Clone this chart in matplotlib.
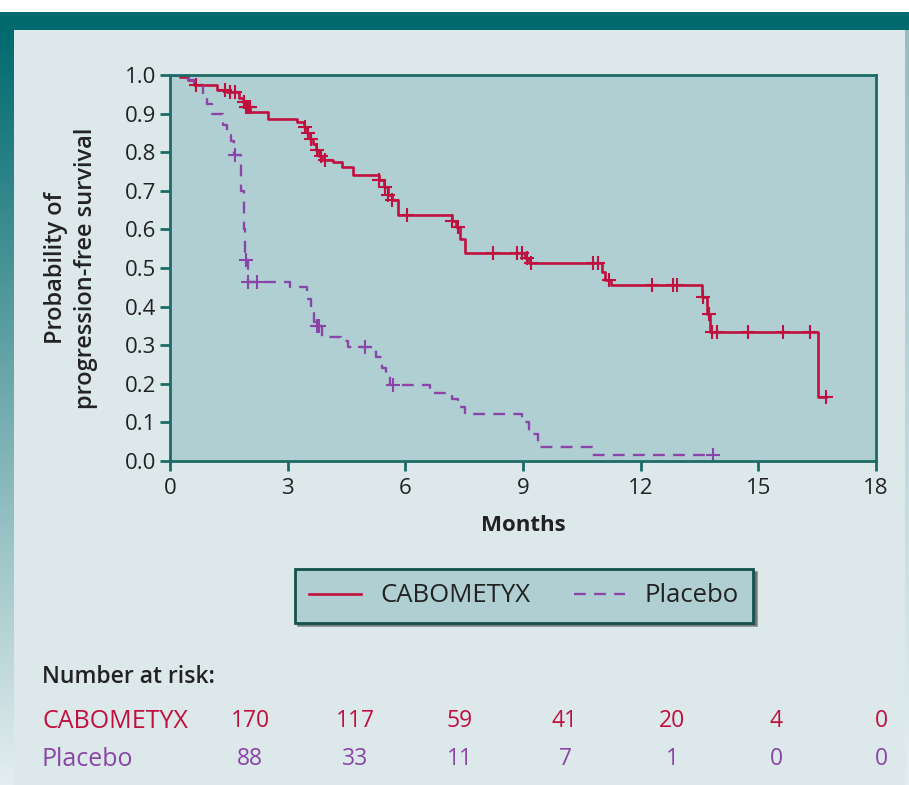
import numpy as np
import matplotlib
matplotlib.use("Agg")
import matplotlib.pyplot as plt
from matplotlib.patches import Rectangle

plt.rcParams['font.family'] = ['Open Sans', 'DejaVu Sans']

# Kaplan-Meier curves (step times in months, survival after the step)
cabo_t = [0, 0.25, 0.45, 0.62, 1.2, 1.45, 1.75, 1.85, 1.92, 2.05, 2.5, 3.24, 3.42, 3.5,
          3.58, 3.65, 3.72, 3.8, 3.88, 4.16, 4.39, 4.67, 5.32, 5.45, 5.55, 5.65, 5.81,
          7.18, 7.3, 7.4, 7.52, 9.05, 9.15, 11.02, 11.1, 11.25, 13.56, 13.7, 13.78, 16.52]
cabo_s = [1.0, 0.994, 0.987, 0.975, 0.962, 0.955, 0.94, 0.93, 0.918, 0.905, 0.886, 0.877,
          0.865, 0.85, 0.835, 0.82, 0.805, 0.79, 0.78, 0.775, 0.762, 0.741, 0.728, 0.71,
          0.69, 0.676, 0.637, 0.622, 0.605, 0.575, 0.54, 0.527, 0.513, 0.49, 0.47, 0.455,
          0.425, 0.38, 0.333, 0.166]
cabo_end = 16.73
cabo_cens = [0.66, 1.4, 1.52, 1.66, 1.88, 1.95, 2.0, 2.04, 3.44, 3.52, 3.6, 3.75, 3.85,
             3.95, 5.33, 5.47, 5.57, 5.67, 6.04, 7.2, 7.35, 8.24, 8.85, 8.97, 9.1, 9.2,
             10.79, 10.91, 11.2, 12.29, 12.82, 12.93, 13.6, 13.75, 13.82, 13.95, 14.74,
             15.63, 16.32, 16.73]

plac_t = [0, 0.25, 0.45, 0.62, 0.85, 0.95, 1.07, 1.35, 1.45, 1.55, 1.62, 1.82, 1.88,
          1.92, 1.98, 3.06, 3.5, 3.6, 3.68, 3.75, 3.88, 4.35, 4.55, 5.25, 5.4, 5.5, 5.6,
          6.63, 7.2, 7.35, 7.52, 8.97, 9.15, 9.38, 10.76]
plac_s = [1.0, 0.994, 0.987, 0.975, 0.95, 0.925, 0.90, 0.87, 0.845, 0.83, 0.793, 0.70,
          0.60, 0.52, 0.465, 0.451, 0.42, 0.39, 0.36, 0.35, 0.321, 0.31, 0.295, 0.27,
          0.24, 0.22, 0.197, 0.176, 0.16, 0.14, 0.123, 0.10, 0.07, 0.036, 0.016]
plac_end = 13.85
plac_cens = [1.66, 1.93, 1.99, 2.22, 3.75, 3.8, 4.98, 5.69, 13.85]

x_ticks = [0, 3, 6, 9, 12, 15, 18]
y_ticks = [0.0, 0.1, 0.2, 0.3, 0.4, 0.5, 0.6, 0.7, 0.8, 0.9, 1.0]

risk_groups = ['CABOMETYX', 'Placebo']
risk_cabo = [170, 117, 59, 41, 20, 4, 0]
risk_plac = [88, 33, 11, 7, 1, 0, 0]

red = '#c0103f'
purple = '#8a45a8'
teal = '#006a6e'
spine = '#1d6a66'
panel = '#dce8ea'
face = '#b0cfd3'


def surv_at(t_steps, s_steps, t):
    i = np.searchsorted(t_steps, t, side='right') - 1
    return s_steps[i]


W, H = 909, 785
fig = plt.figure(figsize=(W / 100, H / 100), dpi=100)
fig.patch.set_facecolor('white')

# frame: teal band on top, gradient on left, light panel inside
fig.patches.append(Rectangle((0, 0), 1, 1 - 12 / H, transform=fig.transFigure,
                             facecolor=panel, edgecolor='none', zorder=-10))
fig.patches.append(Rectangle((0, 1 - 30 / H), 1, 18 / H, transform=fig.transFigure,
                             facecolor=teal, edgecolor='none', zorder=-9))
grad = fig.add_axes([0, 0, 14 / W, 1 - 30 / H])
g = np.linspace(0, 1, 256)[:, None]
c0 = np.array([0, 106, 110]) / 255
c1 = np.array([228, 238, 240]) / 255
img = (c0 * (1 - g[..., None]) + c1 * g[..., None])
grad.imshow(img, aspect='auto', extent=[0, 1, 0, 1], origin='upper')
grad.axis('off')
gradr = fig.add_axes([1 - 4 / W, 0, 4 / W, 1 - 30 / H])
c2 = np.array([150, 190, 195]) / 255
img2 = (c2 * (1 - g[..., None]) + c1 * g[..., None])
gradr.imshow(img2, aspect='auto', extent=[0, 1, 0, 1], origin='upper')
gradr.axis('off')

ax = fig.add_axes([170 / W, 1 - 461 / H, 706 / W, 386 / H])
ax.set_facecolor(face)

ax.step(cabo_t + [cabo_end], cabo_s + [cabo_s[-1]], where='post', color=red, lw=1.9,
        label='CABOMETYX')
ax.step(plac_t + [plac_end], plac_s + [plac_s[-1]], where='post', color=purple, lw=1.7,
        dashes=(5, 3.5), label='Placebo')
ax.plot(cabo_cens, [surv_at(cabo_t, cabo_s, t) for t in cabo_cens], ls='none',
        marker='+', ms=10, mew=1.5, color=red)
ax.plot(plac_cens, [surv_at(plac_t, plac_s, t) for t in plac_cens], ls='none',
        marker='+', ms=10, mew=1.5, color=purple)

ax.set_xlim(0, 18)
ax.set_ylim(0, 1.0)
ax.set_xticks(x_ticks)
ax.set_yticks(y_ticks)
ax.set_yticklabels([f'{v:.1f}' for v in y_ticks])
ax.tick_params(direction='out', length=7, width=2, color=spine, labelsize=16,
               labelcolor='#222222', pad=3)
ax.tick_params(axis='x', pad=5)
for s in ax.spines.values():
    s.set_color(spine)
    s.set_linewidth(2)

ax.set_xlabel('Months', fontsize=16, fontweight='bold', color='#222222', labelpad=12)
fig.text(71 / W, 1 - 268 / H, 'Probability of\nprogression-free survival', rotation=90,
         ha='center', va='center', fontsize=17, fontweight='semibold', color='#222222',
         linespacing=1.3)

leg = fig.legend(loc='center', bbox_to_anchor=(524 / W, 1 - 596 / H), ncol=2,
                 fontsize=18.5, frameon=True, fancybox=False, shadow=True,
                 handlelength=2.0, columnspacing=1.7, handletextpad=0.75,
                 borderpad=0.55, borderaxespad=0)
leg.get_frame().set_facecolor(face)
leg.get_frame().set_edgecolor('#15514e')
leg.get_frame().set_linewidth(2)
for t in leg.get_texts():
    t.set_color('#222222')

# number at risk table
fig.text(42 / W, 1 - 677 / H, 'Number at risk:', fontsize=16.5, fontweight='semibold',
         color='#222222', ha='left', va='center')
col_x = [250, 355, 460, 565, 672, 776, 881]
for row, (name, vals, col) in enumerate(zip(risk_groups, [risk_cabo, risk_plac],
                                            [red, purple])):
    y = 1 - (721 + 38 * row) / H
    fig.text(42 / W, y, name, fontsize=18, color=col, ha='left', va='center')
    for xx, v in zip(col_x, vals):
        fig.text(xx / W, y, str(v), fontsize=16.5, color=col, ha='center', va='center')

fig.savefig('out.png', dpi=100)
